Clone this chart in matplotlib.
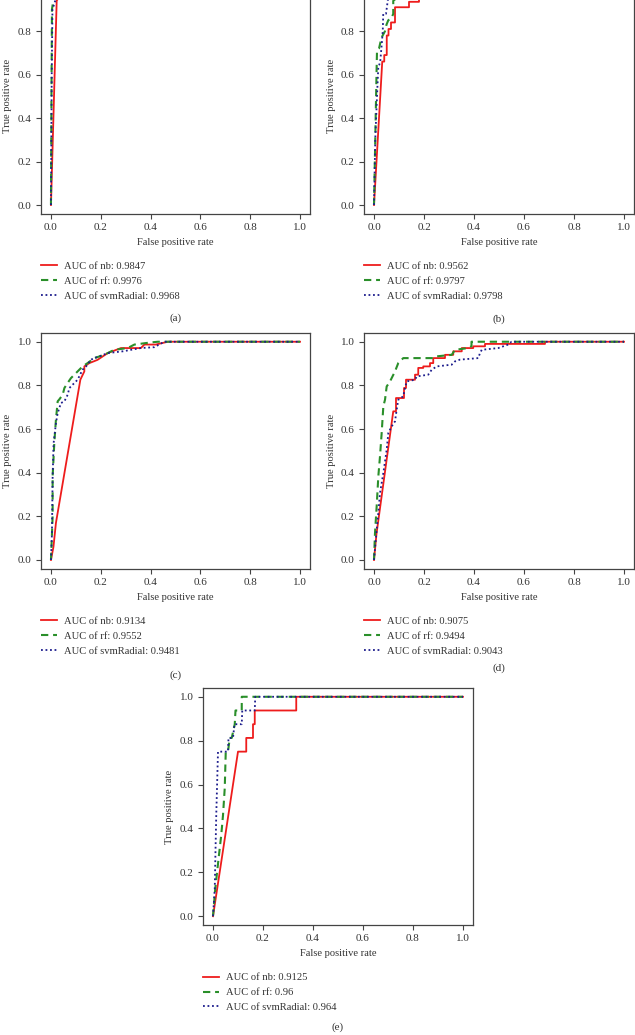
import matplotlib
matplotlib.use('Agg')
import matplotlib.pyplot as plt

plt.rcParams['font.family'] = ['Liberation Serif', 'DejaVu Serif']

W, H = 635, 1035

# ROC points: (fpr, tpr) per model and panel
a_nb_x = [0, 0.023, 0.04, 0.06, 1]
a_nb_y = [0, 0.94, 0.97, 1, 1]
a_rf_x = [0, 0.002, 0.004, 0.008, 0.01, 0.02, 1]
a_rf_y = [0, 0.5, 0.9, 0.93, 0.96, 1, 1]
a_svm_x = [0, 0.003, 0.006, 0.02, 0.03, 1]
a_svm_y = [0, 0.6, 0.9, 0.95, 1, 1]

b_nb_x = [0, 0.033, 0.041, 0.041, 0.051, 0.051, 0.058, 0.058, 0.068, 0.068, 0.084, 0.084, 0.14, 0.14, 0.18, 0.18, 0.3, 0.3, 1]
b_nb_y = [0, 0.66, 0.66, 0.69, 0.69, 0.78, 0.78, 0.81, 0.81, 0.84, 0.84, 0.91, 0.91, 0.935, 0.935, 0.97, 0.97, 1, 1]
b_rf_x = [0, 0.005, 0.01, 0.012, 0.02, 0.03, 0.044, 0.05, 0.057, 0.07, 0.077, 0.077, 0.1, 0.1, 1]
b_rf_y = [0, 0.3, 0.6, 0.71, 0.72, 0.77, 0.8, 0.83, 0.85, 0.86, 0.88, 0.94, 0.96, 1, 1]
b_svm_x = [0, 0.005, 0.012, 0.017, 0.025, 0.031, 0.035, 0.037, 0.048, 0.055, 0.06, 0.06, 1]
b_svm_y = [0, 0.3, 0.5, 0.63, 0.66, 0.74, 0.8, 0.88, 0.88, 0.94, 0.97, 1, 1]

c_nb_x = [0, 0.01, 0.02, 0.118, 0.134, 0.134, 0.154, 0.187, 0.228, 0.281, 0.361, 0.375, 0.42, 0.47, 1]
c_nb_y = [0, 0.06, 0.17, 0.826, 0.864, 0.887, 0.902, 0.917, 0.948, 0.971, 0.971, 0.987, 0.987, 1, 1]
c_rf_x = [0, 0.0067, 0.0067, 0.0134, 0.02, 0.027, 0.033, 0.047, 0.054, 0.067, 0.08, 0.094, 0.114, 0.127,
          0.147, 0.174, 0.214, 0.254, 0.308, 0.335, 0.402, 0.43, 1]
c_rf_y = [0, 0.2, 0.383, 0.536, 0.643, 0.727, 0.735, 0.757, 0.788, 0.811, 0.833, 0.849, 0.872, 0.887,
          0.902, 0.925, 0.94, 0.963, 0.971, 0.987, 0.997, 1, 1]
c_svm_x = [0, 0.004, 0.0067, 0.0107, 0.02, 0.027, 0.04, 0.054, 0.067, 0.074, 0.087, 0.107, 0.127, 0.141,
           0.161, 0.174, 0.194, 0.228, 0.288, 0.36, 0.415, 0.455, 1]
c_svm_y = [0, 0.124, 0.383, 0.536, 0.627, 0.673, 0.719, 0.727, 0.757, 0.788, 0.803, 0.826, 0.872, 0.887,
           0.918, 0.925, 0.933, 0.948, 0.956, 0.971, 0.975, 1, 1]

d_nb_x = [0, 0.01, 0.077, 0.088, 0.088, 0.12, 0.12, 0.128, 0.128, 0.164, 0.164, 0.177, 0.177, 0.197, 0.197,
          0.224, 0.224, 0.237, 0.237, 0.284, 0.284, 0.317, 0.317, 0.351, 0.351, 0.397, 0.397, 0.444, 0.444,
          0.684, 0.684, 1]
d_nb_y = [0, 0.12, 0.681, 0.681, 0.742, 0.742, 0.788, 0.788, 0.826, 0.826, 0.849, 0.849, 0.88, 0.88, 0.887,
          0.887, 0.902, 0.902, 0.925, 0.925, 0.94, 0.94, 0.956, 0.956, 0.971, 0.971, 0.979, 0.979, 0.99,
          0.99, 1, 1]
d_rf_x = [0, 0.004, 0.0107, 0.0173, 0.024, 0.0307, 0.0373, 0.044, 0.0507, 0.064, 0.084, 0.097, 0.117, 0.237,
          0.251, 0.311, 0.324, 0.377, 0.39, 0.39, 1]
d_rf_y = [0, 0.124, 0.246, 0.383, 0.475, 0.582, 0.704, 0.734, 0.795, 0.818, 0.864, 0.902, 0.925, 0.925,
          0.933, 0.94, 0.963, 0.971, 0.98, 1, 1]
d_svm_x = [0, 0.0107, 0.0173, 0.024, 0.0373, 0.0507, 0.0573, 0.0707, 0.084, 0.0907, 0.097, 0.117, 0.124,
           0.131, 0.164, 0.171, 0.217, 0.231, 0.251, 0.311, 0.324, 0.344, 0.417, 0.424, 0.431, 0.497,
           0.537, 0.55, 1]
d_svm_y = [0, 0.139, 0.215, 0.307, 0.398, 0.505, 0.582, 0.612, 0.635, 0.688, 0.734, 0.75, 0.788, 0.818,
           0.826, 0.841, 0.849, 0.872, 0.887, 0.895, 0.91, 0.918, 0.925, 0.948, 0.963, 0.971, 0.987, 1, 1]

e_nb_x = [0, 0.1, 0.133, 0.133, 0.16, 0.16, 0.167, 0.167, 0.333, 0.333, 1]
e_nb_y = [0, 0.75, 0.75, 0.8125, 0.8125, 0.875, 0.875, 0.9375, 0.9375, 1, 1]
e_rf_x = [0, 0.009, 0.024, 0.033, 0.04, 0.047, 0.051, 0.06, 0.067, 0.075, 0.087, 0.09, 0.115, 0.115, 1]
e_rf_y = [0, 0.125, 0.28, 0.37, 0.46, 0.584, 0.75, 0.75, 0.8125, 0.8125, 0.875, 0.9375, 0.9375, 1, 1]
e_svm_x = [0, 0.007, 0.01, 0.013, 0.02, 0.06, 0.062, 0.08, 0.086, 0.115, 0.117, 0.167, 0.169, 1]
e_svm_y = [0, 0.125, 0.3, 0.46, 0.75, 0.75, 0.8125, 0.8125, 0.875, 0.875, 0.9375, 0.9375, 1, 1]

auc_a = ['0.9847', '0.9976', '0.9968']
auc_b = ['0.9562', '0.9797', '0.9798']
auc_c = ['0.9134', '0.9552', '0.9481']
auc_d = ['0.9075', '0.9494', '0.9043']
auc_e = ['0.9125', '0.96', '0.964']

models = ['nb', 'rf', 'svmRadial']
ticks = [0.0, 0.2, 0.4, 0.6, 0.8, 1.0]

panels = [
    # box in pixels: left, top, right, bottom ; caption y
    ('(a)', (41, -21, 310, 213.7), 318, [(a_nb_x, a_nb_y), (a_rf_x, a_rf_y), (a_svm_x, a_svm_y)], auc_a),
    ('(b)', (364, -21, 634, 213.7), 319, [(b_nb_x, b_nb_y), (b_rf_x, b_rf_y), (b_svm_x, b_svm_y)], auc_b),
    ('(c)', (41, 333, 310, 568.7), 675, [(c_nb_x, c_nb_y), (c_rf_x, c_rf_y), (c_svm_x, c_svm_y)], auc_c),
    ('(d)', (364, 333, 634, 568.7), 668, [(d_nb_x, d_nb_y), (d_rf_x, d_rf_y), (d_svm_x, d_svm_y)], auc_d),
    ('(e)', (203, 688, 473, 925), 1027, [(e_nb_x, e_nb_y), (e_rf_x, e_rf_y), (e_svm_x, e_svm_y)], auc_e),
]

styles = [
    dict(color='#ee1c1c', lw=1.3, ls='-'),
    dict(color='#2a8f2a', lw=1.5, ls=(0, (3.5, 2.3))),
    dict(color='#1c1c8c', lw=1.3, ls=(0, (1, 1.5))),
]

txt = '#333333'
fig = plt.figure(figsize=(W / 100, H / 100), dpi=100)

for cap, (l, t, r, b), cap_y, curves, aucs in panels:
    ax = fig.add_axes([l / W, 1 - b / H, (r - l) / W, (b - t) / H])
    for (xs, ys), st, m, auc in zip(curves, styles, models, aucs):
        ax.plot(xs, ys, label='AUC of %s: %s' % (m, auc), **st)
    ax.set_xlim(-0.04, 1.04)
    ax.set_ylim(-0.04, 1.04)
    ax.set_xticks(ticks)
    ax.set_yticks(ticks)
    ax.set_xticklabels(['%.1f' % v for v in ticks])
    ylabs = ax.set_yticklabels(['%.1f' % v for v in ticks])
    if t < 0:
        # top rows are cropped above 0.9 in the source image
        ylabs[-1].set_visible(False)
    ax.tick_params(direction='out', length=3.6, width=0.8, color='#444444', labelsize=8,
                   labelcolor=txt, pad=3)
    for sp in ax.spines.values():
        sp.set_color('#444444')
        sp.set_linewidth(0.9)
    hpx = b - t
    wpx = r - l
    ax.set_xlabel('False positive rate', fontsize=7.6, color=txt)
    ax.xaxis.label.set_va('center')
    ax.xaxis.set_label_coords(0.5, -28.5 / hpx)
    ax.set_ylabel('True positive rate', fontsize=7.6, color=txt)
    ax.yaxis.label.set_va('center')
    ax.yaxis.set_label_coords(-33 / wpx, 0.5)
    leg = ax.legend(loc='upper left', bbox_to_anchor=(l / W, 1 - (b + 48) / H),
                    bbox_transform=fig.transFigure, frameon=False, fontsize=7.6,
                    handlelength=1.55, handletextpad=0.65, labelspacing=0.52,
                    borderpad=0, borderaxespad=0)
    for tx in leg.get_texts():
        tx.set_color(txt)
    fig.text((l + r) / 2 / W, 1 - cap_y / H, cap, ha='center', va='center', fontsize=8, color=txt)

fig.savefig('out.png', dpi=100)
